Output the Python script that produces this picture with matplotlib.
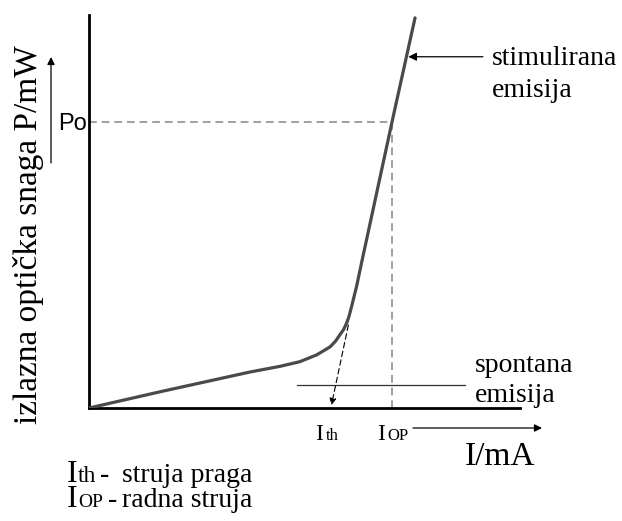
import matplotlib
matplotlib.use('Agg')
import matplotlib.pyplot as plt

# laser diode P-I characteristic (I in mA, P in mW)
current = [0, 6.0, 13.3, 15.8, 17.4, 18.8, 19.9, 20.35, 20.7, 21.0, 21.25,
           21.45, 21.66, 22.07, 22.5, 25.0, 26.9]
power = [0, 0.29, 0.63, 0.73, 0.81, 0.93, 1.07, 1.17, 1.28, 1.37, 1.48,
         1.6, 1.77, 2.12, 2.55, 5.0, 6.82]

I_th = 20.0
I_op = 25.0
P_o = 5.0
# dashed tangent that goes down to the threshold
tangent_start = (21.4, 1.45)
tangent_end = (I_th, 0.05)
# level of the "spontana emisija" marker line
spont_I = [17.2, 31.0]
spont_P = 0.40
# arrow to the stimulated part of the curve
stim_from = (32.5, 6.14)
stim_to = (26.35, 6.14)

W, H = 622, 521
fig = plt.figure(figsize=(W / 100, H / 100), dpi=100)
ax = fig.add_axes([89 / W, (H - 408) / H, 431 / W, 393 / H])
ax.set_xlim(0, 35.56)
ax.set_ylim(0, 6.87)
for s in ['top', 'right']:
    ax.spines[s].set_visible(False)
for s in ['left', 'bottom']:
    ax.spines[s].set_linewidth(2.0)
    ax.spines[s].set_color('black')
ax.set_xticks([])
ax.set_yticks([])

serif = 'Liberation Serif'

# dashed guides for the operating point
ax.plot([0, I_op], [P_o, P_o], color='#a0a0a0', lw=1.4, dashes=(4, 2.5))
ax.plot([I_op, I_op], [0, P_o], color='#a0a0a0', lw=1.4, dashes=(4, 2.5))

ax.plot(current, power, color='#4a4a4a', lw=2.3, solid_joinstyle='round',
        solid_capstyle='round', zorder=3)

ax.annotate('', xy=tangent_end, xytext=tangent_start,
            arrowprops=dict(arrowstyle='-|>', color='black', lw=0.8,
                            linestyle=(0, (5, 3)), mutation_scale=10,
                            shrinkA=0, shrinkB=0))

ax.plot(spont_I, [spont_P, spont_P], color='#333333', lw=0.9, clip_on=False)

ax.annotate('', xy=stim_to, xytext=stim_from, annotation_clip=False,
            arrowprops=dict(arrowstyle='-|>', color='black', lw=0.9,
                            mutation_scale=12, shrinkA=0, shrinkB=0))


def put(x, y, s, size, family=serif, **kw):
    fig.text(x / W, 1 - y / H, s, fontsize=size, family=family,
             va='baseline', ha='left', **kw)


def arrow_px(x0, y0, x1, y1):
    fig.add_artist(matplotlib.patches.FancyArrowPatch(
        (x0 / W, 1 - y0 / H), (x1 / W, 1 - y1 / H), transform=fig.transFigure,
        arrowstyle='-|>', color='black', lw=0.9, mutation_scale=11,
        shrinkA=0, shrinkB=0))


put(492, 65, 'stimulirana', 20)
put(492, 97, 'emisija', 20)
put(475, 372, 'spontana', 20)
put(475, 402, 'emisija', 20)

put(315, 440, 'I', 17)
put(326, 440, 'th', 12)
put(377, 440, 'I', 17)
put(387, 440, 'OP', 12)
arrow_px(413, 428, 542, 428)
put(465, 465, 'I/mA', 24)

put(58, 130, 'Po', 17, family='Liberation Sans')
arrow_px(51, 163, 51, 57)
fig.text(37 / W, 1 - 235 / H, 'izlazna optička snaga P/mW', fontsize=24,
         family=serif, rotation=90, rotation_mode='anchor',
         ha='center', va='baseline')

# legend below the chart: the two big capital I's share one text block
# (baseline alignment of a two-line text goes to the last line)
put(67, 507, 'I\nI', 23, linespacing=0.83)
put(78, 482, 'th', 17)
put(100, 482, '-', 20, weight='bold')
put(122, 482, 'struja praga', 20)
put(78, 507, 'OP', 14)
put(108, 507, '-', 20)
put(122, 507, 'radna struja', 20)

fig.savefig('out.png', dpi=100, facecolor='white')
